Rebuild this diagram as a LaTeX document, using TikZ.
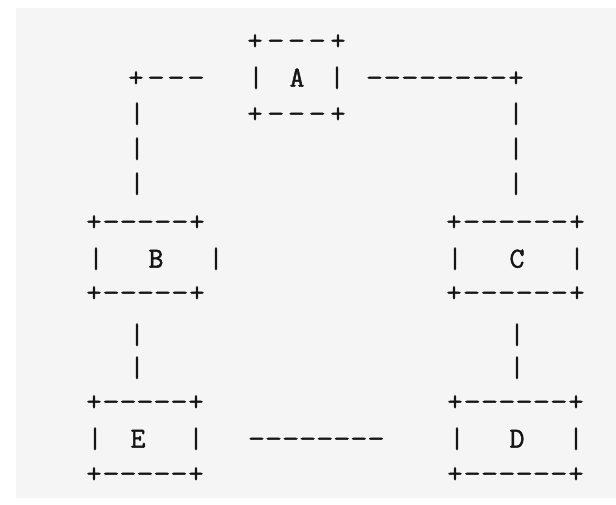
\documentclass[tikz,border=0pt]{standalone}
\usepackage{fontspec}
\usepackage{graphicx}
\newfontfamily\asciifont[FakeBold=1.6]{Latin Modern Mono}
\definecolor{bg}{HTML}{F5F5F5}
\definecolor{ink}{HTML}{151515}
\tikzset{ch/.style={font=\asciifont\fontsize{29}{29}\selectfont, inner sep=0pt,
  text height=0.8em, text depth=0.28em, text=ink}}
% a run of n dashes: name, first x, step, n, y
\newcommand\dashrun[5]{\foreach \k in {1,...,#4}{\node[ch] (#1\k) at ({#2+(\k-1)*#3},#5) {\scalebox{1.15}[1]{-}};}}
\begin{document}
\begin{tikzpicture}[x=1pt,y=-1pt]
\useasboundingbox (0,0) rectangle (616,504);
\fill[white] (0,0) rectangle (616,504);
\fill[bg] (16,8) rectangle (616,498);
% ---- row 0 : A top
\node[ch] (a0l) at (255,47) {+};
\dashrun{a0d}{275.75}{20.75}{3}{47}
\node[ch] (a0r) at (338,47) {+};
% ---- row 1
\node[ch] (l1p) at (136,84) {+};
\dashrun{l1d}{156}{20}{3}{84}
\node[ch] (a1l) at (256,84) {|};
\node[ch] (A) at (297,84) {A};
\node[ch] (a1r) at (337,84) {|};
\dashrun{r1d}{374.5}{17.7}{8}{84}
\node[ch] (r1p) at (516,84) {+};
% ---- row 2
\node[ch] (l2b) at (137,120) {|};
\node[ch] (a2l) at (255,120) {+};
\dashrun{a2d}{275.75}{20.75}{3}{120}
\node[ch] (a2r) at (338,120) {+};
\node[ch] (r2b) at (516,120) {|};
% ---- rows 3,4
\node[ch] (l3b) at (137,155) {|};
\node[ch] (r3b) at (516,155) {|};
\node[ch] (l4b) at (137,190) {|};
\node[ch] (r4b) at (516,190) {|};
% ---- row 5 : B and C top
\node[ch] (b5l) at (94,228) {+};
\dashrun{b5d}{111.17}{17.17}{5}{228}
\node[ch] (b5r) at (197,228) {+};
\node[ch] (c5l) at (454,228) {+};
\dashrun{c5d}{471.57}{17.57}{6}{228}
\node[ch] (c5r) at (577,228) {+};
% ---- row 6
\node[ch] (b6l) at (96,265) {|};
\node[ch] (B) at (156,265) {B};
\node[ch] (b6r) at (216,265) {|};
\node[ch] (c6l) at (455,265) {|};
\node[ch] (C) at (517,265) {C};
\node[ch] (c6r) at (577,265) {|};
% ---- row 7
\node[ch] (b7l) at (94,299) {+};
\dashrun{b7d}{111.17}{17.17}{5}{299}
\node[ch] (b7r) at (197,299) {+};
\node[ch] (c7l) at (454,299) {+};
\dashrun{c7d}{471.57}{17.57}{6}{299}
\node[ch] (c7r) at (577,299) {+};
% ---- rows 8,9
\node[ch] (l8b) at (137,341) {|};
\node[ch] (r8b) at (517,341) {|};
\node[ch] (l9b) at (137,374) {|};
\node[ch] (r9b) at (517,374) {|};
% ---- row 10 : E and D top
\node[ch] (e10l) at (94,408) {+};
\dashrun{e10d}{111}{17}{5}{408}
\node[ch] (e10r) at (196,408) {+};
\node[ch] (d10l) at (455,408) {+};
\dashrun{d10d}{472.29}{17.29}{6}{408}
\node[ch] (d10r) at (576,408) {+};
% ---- row 11
\node[ch] (e11l) at (95,445) {|};
\node[ch] (E) at (138,445) {E};
\node[ch] (e11r) at (196,445) {|};
\dashrun{m11d}{256.5}{17.07}{8}{445}
\node[ch] (d11l) at (457,445) {|};
\node[ch] (D) at (517,445) {D};
\node[ch] (d11r) at (576,445) {|};
% ---- row 12
\node[ch] (e12l) at (94,480) {+};
\dashrun{e12d}{111}{17}{5}{480}
\node[ch] (e12r) at (196,480) {+};
\node[ch] (d12l) at (455,480) {+};
\dashrun{d12d}{472.29}{17.29}{6}{480}
\node[ch] (d12r) at (576,480) {+};
\end{tikzpicture}
\end{document}
